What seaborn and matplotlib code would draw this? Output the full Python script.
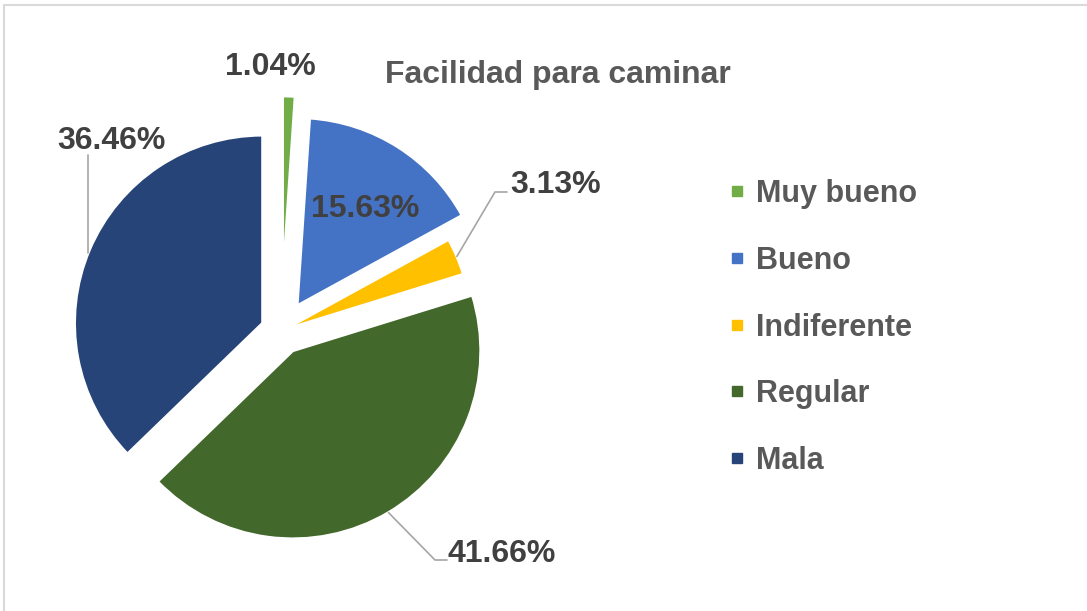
import matplotlib
matplotlib.use("Agg")
import matplotlib.pyplot as plt
import seaborn as sns
import numpy as np
from matplotlib.lines import Line2D

# ---- data ----
categories = ["Muy bueno", "Bueno", "Indiferente", "Regular", "Mala"]
percentages = [1.04, 15.63, 3.13, 41.66, 36.46]
value_labels = ["1.04%", "15.63%", "3.13%", "41.66%", "36.46%"]
title_text = "Facilidad para caminar"

# ---- styles / layout ----
colors = ["#70AD47", "#4472C4", "#FFC000", "#43682B", "#264478"]
explode_px = [47, 30, 3, 23, 20]

sns.set_theme(style="white")
plt.rcParams['font.family'] = ['Liberation Sans', 'DejaVu Sans']

W, H = 1087, 611
fig = plt.figure(figsize=(W / 100, H / 100), dpi=100)
ax = fig.add_axes([0, 0, 1, 1])
cx, cy = 281, H - 331
R = 188
wedges, _ = ax.pie(percentages, colors=colors, explode=explode_px, startangle=90,
                   counterclock=False, radius=R, center=(cx, cy),
                   wedgeprops=dict(edgecolor='white', linewidth=2))
ax.set_xlim(0, W)
ax.set_ylim(0, H)
ax.set_aspect('auto')
ax.axis('off')

def px(x, y):
    return x, H - y

# value labels (baseline anchors, screen px)
label_anchor = [(270, 75), (365, 217), (556, 193), (502, 562), (111.5, 149)]
for txt, (lx, ly) in zip(value_labels, label_anchor):
    ax.text(*px(lx, ly), txt, ha='center', va='baseline', fontsize=23,
            fontweight='bold', color='#404040')

def arc_mid(w):
    t = np.deg2rad((w.theta1 + w.theta2) / 2)
    return w.center[0] + w.r * np.cos(t), w.center[1] + w.r * np.sin(t)

lc = '#A6A6A6'
# Indiferente leader
p_end = arc_mid(wedges[2])
ax.plot([507, 495, p_end[0]], [H - 192, H - 192, p_end[1]], color=lc, lw=1.2)
# Regular leader
p_end = arc_mid(wedges[3])
ax.plot([447, 435, p_end[0]], [H - 560, H - 560, p_end[1]], color=lc, lw=1.2)
# Mala leader (vertical)
w = wedges[4]
lx = 88
ly = w.center[1] + np.sqrt(w.r ** 2 - (lx - w.center[0]) ** 2)
ax.plot([lx, lx], [H - 155, ly], color=lc, lw=1.2)

# title
ax.text(557.5, H - 83, title_text, ha='center', va='baseline', fontsize=23,
        fontweight='bold', color='#595959')

# legend
handles = [Line2D([0], [0], marker='s', ls='', markerfacecolor=c, markeredgecolor=c,
                  markersize=7.5) for c in colors]
leg = ax.legend(handles, categories, loc='center left',
                bbox_to_anchor=(728 / W, 1 - 327.5 / H), bbox_transform=fig.transFigure,
                frameon=False, borderpad=0, borderaxespad=0, handletextpad=0.3,
                handlelength=0.6, labelspacing=1.2, prop=dict(weight='bold', size=22))
for t in leg.get_texts():
    t.set_color('#595959')

# chart border
fig.add_artist(Line2D([4 / W, 1], [1 - 5 / H, 1 - 5 / H], color='#D9D9D9', lw=1.5,
                      transform=fig.transFigure))
fig.add_artist(Line2D([4 / W, 4 / W], [0, 1 - 5 / H], color='#D9D9D9', lw=1.5,
                      transform=fig.transFigure))

fig.savefig("out.png", dpi=100, facecolor='white')
